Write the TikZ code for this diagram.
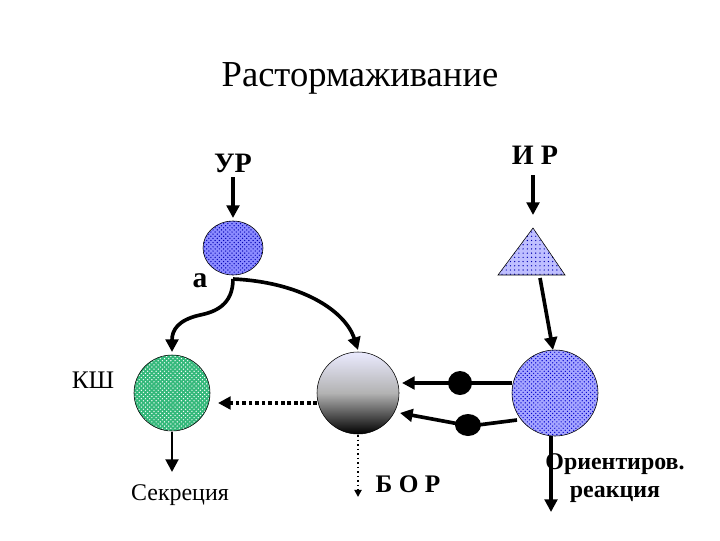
\documentclass[tikz,border=0pt]{standalone}
\usepackage{fontspec}
\setmainfont{Liberation Serif}
\usetikzlibrary{patterns,arrows.meta}
\begin{document}
\begin{tikzpicture}[x=0.025cm,y=-0.025cm,
  thickarr/.style={line width=2.6pt,-{Triangle[length=9pt,width=9pt]}},
  lbl/.style={font=\bfseries\fontsize{20}{22}\selectfont}]
\useasboundingbox (0,0) rectangle (720,540);
\node (title) at (360,78) {\fontsize{26}{30}\selectfont Растормаживание};
\node[lbl] (ur) at (233,163) {УР};
\node[lbl] (ir) at (535,155) {И Р};
\path[preaction={fill=blue!45},draw=black,pattern=crosshatch dots,pattern color=blue!70!black] (233,248) ellipse [x radius=30,y radius=27];
\node[font=\bfseries\fontsize{21}{23}\selectfont] (alab) at (200,281) {а};
\coordinate (aout) at (233,279);
\coordinate (irs) at (533,175);
\draw[thickarr] (ur.south) -- (233,218);
% triangle
\path[preaction={fill=blue!25},draw=black,pattern=dots,pattern color=blue!70!black] (533,228) -- (565,275) -- (498,275) -- cycle;
\coordinate (trib) at (540,278);
\draw[thickarr] (irs) -- (533,215);
% KSh
\path[preaction={fill=teal!70!green!80},draw=black,pattern=crosshatch dots,pattern color=white] (172,393) circle (38);
\coordinate (kshN) at (172,352);
\node[font=\fontsize{18}{20}\selectfont] (kshl) at (93,380) {КШ};
% middle
\shade[top color=blue!8,bottom color=black,middle color=gray!60,draw=black] (358,393) circle (41);
\coordinate (midN) at (358,350);
% right
\path[preaction={fill=blue!35},draw=black,pattern=crosshatch dots,pattern color=blue!80!black] (555,393) circle (43);
\coordinate (rN) at (553,350);
% curves
\draw[thickarr] (aout) .. controls (233,305) and (215,312) .. (200,315) .. controls (178,320) and (172,330) .. (kshN);
\draw[thickarr] (aout) .. controls (300,282) and (345,310) .. (midN);
\draw[thickarr] (trib) -- (rN);
\draw[line width=2.6pt,dotted,-{Triangle[length=9pt,width=9pt]}] (317,403) -- (218,403);
\coordinate (r1) at (512,383); \coordinate (m1) at (402,383);
\coordinate (r2) at (517,420); \coordinate (m2) at (400,413);
\draw[thickarr] (r1) -- (m1);
\draw[thickarr] (r2) -- (470,426) -- (m2);
\fill (460,383) circle (12);
\fill (468,425) ellipse [x radius=13,y radius=11];
% outputs
\coordinate (ksho) at (172,432); \coordinate (kshe) at (172,472);
\draw[thickarr,line width=2pt] (ksho) -- (kshe);
\node[font=\fontsize{17}{19}\selectfont] (sec) at (180,495) {Секреция};
\coordinate (mo) at (358,435); \coordinate (me) at (358,497);
\draw[line width=1.2pt,dotted,-{Triangle[length=5pt,width=5pt]}] (mo) -- (me);
\node[font=\bfseries\fontsize{18}{20}\selectfont] (bor) at (408,484) {Б О Р};
\coordinate (ro) at (551,436); \coordinate (re) at (551,512);
\draw[thickarr] (ro) -- (re);
\node[font=\bfseries\fontsize{17}{20}\selectfont,align=center] (or) at (615,478) {Ориентиров.\\ реакция};
\end{tikzpicture}
\end{document}
